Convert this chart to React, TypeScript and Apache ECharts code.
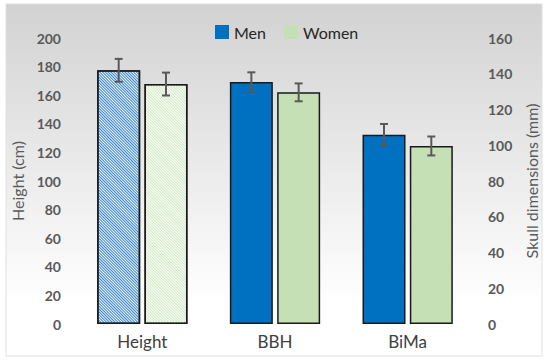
import React, { useEffect, useRef } from "react";
import * as echarts from "echarts";

const categories = ["Height", "BBH", "BiMa"];
const seriesNames = ["Men", "Women"];
// which y axis each category is read on: 0 = Height (cm), 1 = Skull dimensions (mm)
const categoryAxis = [0, 1, 1];
const menMeans = [177.4, 135.4, 105.9];
const menSD = [8, 5.4, 6];
const womenMeans = [167.8, 129.6, 99.6];
const womenSD = [8, 5, 5.3];
const leftTicks = { min: 0, max: 200, interval: 20 };
const rightTicks = { min: 0, max: 160, interval: 20 };

const FONT = "Lato";
const BAR_W = 43;
const BAR_GAP = 0.1;
const OFFSET = (BAR_W * (1 + BAR_GAP)) / 2;

export default function App() {
  const ref = useRef<HTMLDivElement>(null);
  useEffect(() => {
    if (!ref.current) return;
    const chart = echarts.init(ref.current, null, { renderer: "svg" });

    const pick = (vals: number[], axis: number) =>
      vals.map((v, i) => (categoryAxis[i] === axis ? v : "-"));

    const menColor = "#0070c0";
    const womenColor = "#c5e0b4";
    const border = { borderColor: "#1a1a1a", borderWidth: 1.5 };

    const errSeries = (means: number[], sds: number[], axis: number, dir: number) => ({
      type: "custom",
      yAxisIndex: axis,
      z: 10,
      silent: true,
      data: means
        .map((m, i) => (categoryAxis[i] === axis ? [i, m - sds[i], m + sds[i]] : null))
        .filter((d) => d !== null),
      encode: { x: 0, y: [1, 2] },
      renderItem: (params: any, api: any) => {
        const lo = api.coord([api.value(0), api.value(1)]);
        const hi = api.coord([api.value(0), api.value(2)]);
        const x = lo[0] + dir * OFFSET;
        const cap = 4;
        const style = { stroke: "#595959", lineWidth: 2 };
        return {
          type: "group",
          children: [
            { type: "line", shape: { x1: x, y1: lo[1], x2: x, y2: hi[1] }, style },
            { type: "line", shape: { x1: x - cap, y1: lo[1], x2: x + cap, y2: lo[1] }, style },
            { type: "line", shape: { x1: x - cap, y1: hi[1], x2: x + cap, y2: hi[1] }, style },
          ],
        };
      },
    });

    const hatch = (color: string) => ({
      symbol: "rect",
      symbolSize: 1,
      dashArrayX: [1, 0],
      dashArrayY: [1, 1],
      rotation: Math.PI / 4,
      color,
    });

    const option: any = {
      animation: false,
      graphic: [
        {
          type: "rect",
          z: -10,
          shape: { x: 6, y: 4, width: 536, height: 352 },
          style: {
            fill: new echarts.graphic.LinearGradient(0, 0, 0, 1, [
              { offset: 0, color: "#d2d2d2" },
              { offset: 0.85, color: "#ffffff" },
              { offset: 1, color: "#ffffff" },
            ]),
            stroke: "#e0e0e0",
            lineWidth: 1,
          },
        },
      ],
      legend: {
        data: [
          { name: "Men", itemStyle: { color: menColor, borderWidth: 0, decal: "none" } },
          { name: "Women", itemStyle: { color: womenColor, borderWidth: 0, decal: "none" } },
        ],
        top: 19,
        left: 210,
        itemWidth: 14,
        itemHeight: 14,
        itemGap: 18,
        icon: "rect",
        textStyle: { fontFamily: FONT, fontSize: 16, color: "#262626" },
      },
      grid: { left: 76, right: 76, top: 38, bottom: 40, containLabel: false },
      xAxis: {
        type: "category",
        data: categories,
        axisLine: { show: false },
        axisTick: { show: false },
        axisLabel: { fontFamily: FONT, fontSize: 17, color: "#404040", margin: 9 },
      },
      yAxis: [
        {
          type: "value",
          ...leftTicks,
          name: "Height (cm)",
          nameLocation: "middle",
          nameGap: 45,
          nameTextStyle: { fontFamily: FONT, fontSize: 16, color: "#595959" },
          splitLine: { show: false },
          axisLine: { show: false },
          axisTick: { show: false },
          axisLabel: { fontFamily: FONT, fontSize: 14, fontWeight: "bold", color: "#595959", margin: 15 },
        },
        {
          type: "value",
          ...rightTicks,
          position: "right",
          name: "Skull dimensions (mm)",
          nameLocation: "middle",
          nameGap: 44,
          nameTextStyle: { fontFamily: FONT, fontSize: 16, color: "#595959" },
          splitLine: { show: false },
          axisLine: { show: false },
          axisTick: { show: false },
          axisLabel: { fontFamily: FONT, fontSize: 14, fontWeight: "bold", color: "#595959", margin: 14 },
        },
      ],
      series: [
        {
          name: seriesNames[0],
          type: "bar",
          stack: "m",
          yAxisIndex: 1,
          barWidth: BAR_W,
          barGap: `${BAR_GAP * 100}%`,
          data: pick(menMeans, 1),
          itemStyle: { color: menColor, ...border },
        },
        {
          name: seriesNames[1],
          type: "bar",
          stack: "w",
          yAxisIndex: 1,
          barWidth: BAR_W,
          barGap: `${BAR_GAP * 100}%`,
          data: pick(womenMeans, 1),
          itemStyle: { color: womenColor, ...border },
        },
        {
          name: seriesNames[0],
          type: "bar",
          stack: "m",
          yAxisIndex: 0,
          barWidth: BAR_W,
          barGap: `${BAR_GAP * 100}%`,
          data: pick(menMeans, 0),
          itemStyle: { color: "#f0f6fc", ...border, decal: hatch("#3a84c6") },
        },
        {
          name: seriesNames[1],
          type: "bar",
          stack: "w",
          yAxisIndex: 0,
          barWidth: BAR_W,
          barGap: `${BAR_GAP * 100}%`,
          data: pick(womenMeans, 0),
          itemStyle: { color: "#fafdf8", ...border, decal: hatch("#d3e8c6") },
        },
        errSeries(menMeans, menSD, 0, -1),
        errSeries(womenMeans, womenSD, 0, 1),
        errSeries(menMeans, menSD, 1, -1),
        errSeries(womenMeans, womenSD, 1, 1),
      ],
    };
    chart.setOption(option);
    return () => chart.dispose();
  }, []);
  return (
    <div
      ref={ref}
      style={{ position: "absolute", left: 0, top: 0, width: 550, height: 364, background: "#ffffff" }}
    />
  );
}
